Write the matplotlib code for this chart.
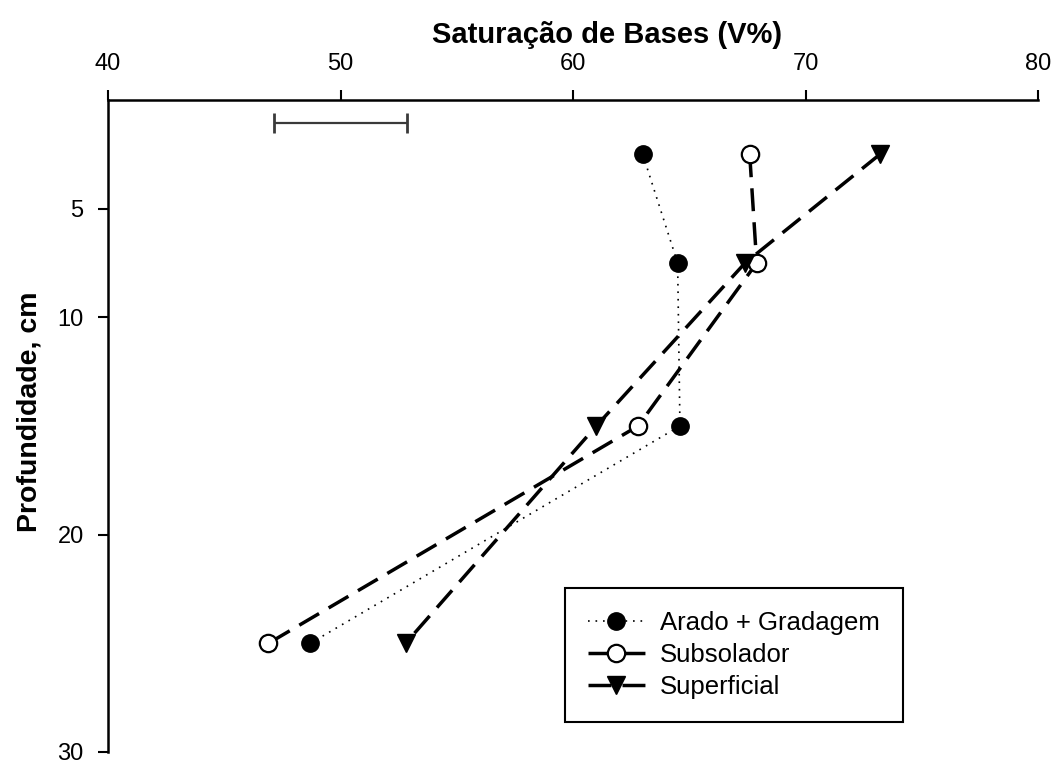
import matplotlib
matplotlib.use("Agg")
import matplotlib.pyplot as plt

plt.rcParams['font.family'] = ['Liberation Sans', 'DejaVu Sans']

# Profundidade das camadas (cm)
profundidade = [2.5, 7.5, 15, 25]

# Saturação de bases (V%) por sistema de preparo
arado_gradagem = [63.0, 64.5, 64.6, 48.7]
subsolador = [67.6, 67.9, 62.8, 46.9]
superficial = [73.2, 67.4, 61.0, 52.8]

# Barra de DMS
dms_centro = 50.0
dms_meia = 2.86
dms_prof = 1.06

x_ticks = [40, 50, 60, 70, 80]
y_ticks = [5, 10, 20, 30]

fig = plt.figure(figsize=(10.55, 7.6), dpi=100)
ax = fig.add_axes([108 / 1055, 1 - 752 / 760, 930 / 1055, 652 / 760])

ax.plot(arado_gradagem, profundidade, color='black', lw=1.2, dashes=(1, 3.5),
        marker='o', ms=12.5, mfc='black', mec='black', label='Arado + Gradagem')
ax.plot(subsolador, profundidade, color='black', lw=2.5, dashes=(6.6, 3.2),
        marker='o', ms=12.5, mfc='white', mec='black', mew=1.6, label='Subsolador')
ax.plot(superficial, profundidade, color='black', lw=2.5, dashes=(6.6, 3.2),
        marker='v', ms=13, mfc='black', mec='black', label='Superficial')

ax.errorbar([dms_centro], [dms_prof], xerr=[dms_meia], fmt='none',
            ecolor='#3a3a3a', elinewidth=1.6, capsize=7, capthick=2)

ax.set_xlim(40, 80)
ax.set_ylim(30, 0)
ax.set_xticks(x_ticks)
ax.set_yticks(y_ticks)

ax.xaxis.tick_top()
ax.xaxis.set_label_position('top')
for s in ['bottom', 'right']:
    ax.spines[s].set_visible(False)
for s in ['top', 'left']:
    ax.spines[s].set_linewidth(1.8)
ax.spines['left'].set_bounds(30, 0)

ax.tick_params(axis='both', direction='out', length=7, width=1.5, labelsize=17)
ax.tick_params(axis='x', pad=11)
ax.tick_params(axis='y', pad=10.5)

ax.set_xlabel('Saturação de Bases (V%)', fontsize=21, fontweight='bold', labelpad=7.5)
ax.xaxis.label.set_x((607 - 108) / 930)
ax.set_ylabel('Profundidade, cm', fontsize=20.5, fontweight='bold', labelpad=11)
ax.yaxis.label.set_y(1 - (412 - 100) / 652)

leg = ax.legend(loc='upper left', bbox_to_anchor=((565 - 108) / 930, 1 - (588 - 100) / 652),
                fontsize=18.5, frameon=True, fancybox=False, handlelength=2.2,
                borderaxespad=0, borderpad=0.9, labelspacing=0.3, handletextpad=0.6)
leg.get_frame().set_edgecolor('black')
leg.get_frame().set_linewidth(1.5)
leg.get_frame().set_alpha(1)

fig.savefig('out.png', dpi=100)
